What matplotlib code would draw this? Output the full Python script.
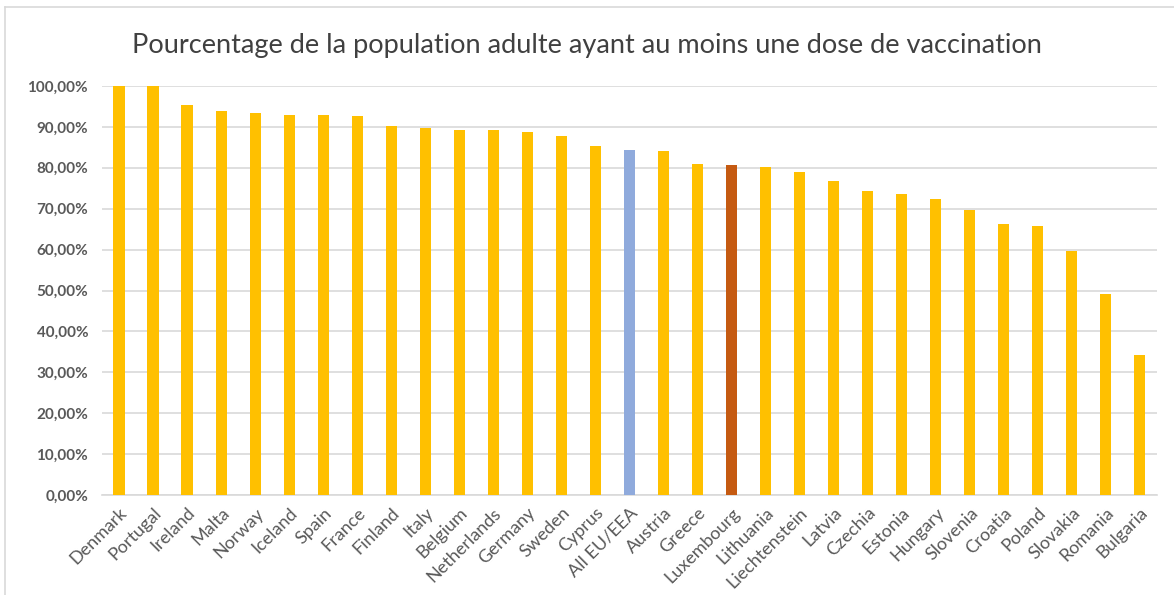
import matplotlib.pyplot as plt
from matplotlib.lines import Line2D
from matplotlib.ticker import FuncFormatter

countries = ["Denmark", "Portugal", "Ireland", "Malta", "Norway", "Iceland", "Spain",
             "France", "Finland", "Italy", "Belgium", "Netherlands", "Germany", "Sweden",
             "Cyprus", "All EU/EEA", "Austria", "Greece", "Luxembourg", "Lithuania",
             "Liechtenstein", "Latvia", "Czechia", "Estonia", "Hungary", "Slovenia",
             "Croatia", "Poland", "Slovakia", "Romania", "Bulgaria"]
values = [100.0, 100.0, 95.4, 93.9, 93.4, 92.9, 92.9,
          92.7, 90.2, 89.7, 89.2, 89.2, 88.8, 87.8,
          85.3, 84.4, 84.1, 80.9, 80.7, 80.2,
          79.0, 76.8, 74.3, 73.6, 72.4, 69.7,
          66.3, 65.8, 59.7, 49.1, 34.2]

plt.rcParams['font.family'] = ['Lato', 'DejaVu Sans']

colors = []
for c in countries:
    if c == "All EU/EEA":
        colors.append("#8FAADC")
    elif c == "Luxembourg":
        colors.append("#C55A11")
    else:
        colors.append("#FFC000")

fig = plt.figure(figsize=(11.74, 5.95), dpi=100)
ax = fig.add_axes([0.0869, 0.168, 0.8985, 0.6875])

x = list(range(len(countries)))
ax.bar(x, values, width=0.33, color=colors, zorder=3)

ax.set_xlim(-0.5, len(countries) - 0.5)
ax.set_ylim(0, 100)
ax.set_yticks(range(0, 101, 10))
ax.yaxis.set_major_formatter(FuncFormatter(lambda v, p: f"{v:.2f}%".replace(".", ",")))
ax.grid(axis='y', color='#d9d9d9', linewidth=1.2, zorder=0)
ax.set_xticks(x)
ax.set_xticklabels(countries, rotation=45, ha='right', rotation_mode='anchor')

for s in ['top', 'right', 'left']:
    ax.spines[s].set_visible(False)
ax.spines['bottom'].set_color('#d9d9d9')
ax.spines['bottom'].set_linewidth(1.2)
ax.tick_params(axis='both', length=0, colors='#595959')
ax.tick_params(axis='x', labelsize=13, pad=7)
ax.tick_params(axis='y', labelsize=11, pad=10)
for lbl in ax.get_yticklabels():
    lbl.set_fontweight('bold')

fig.text(0.5, 0.924, "Pourcentage de la population adulte ayant au moins une dose de vaccination",
         ha='center', va='center', fontsize=19.5, color='#404040')

# chart frame: top and left edges only
fig.add_artist(Line2D([0.0043, 1.0], [0.988, 0.988], transform=fig.transFigure,
                      color='#d9d9d9', linewidth=1.2))
fig.add_artist(Line2D([0.0043, 0.0043], [0.0, 0.988], transform=fig.transFigure,
                      color='#d9d9d9', linewidth=1.2))

plt.savefig("out.png", dpi=100)
